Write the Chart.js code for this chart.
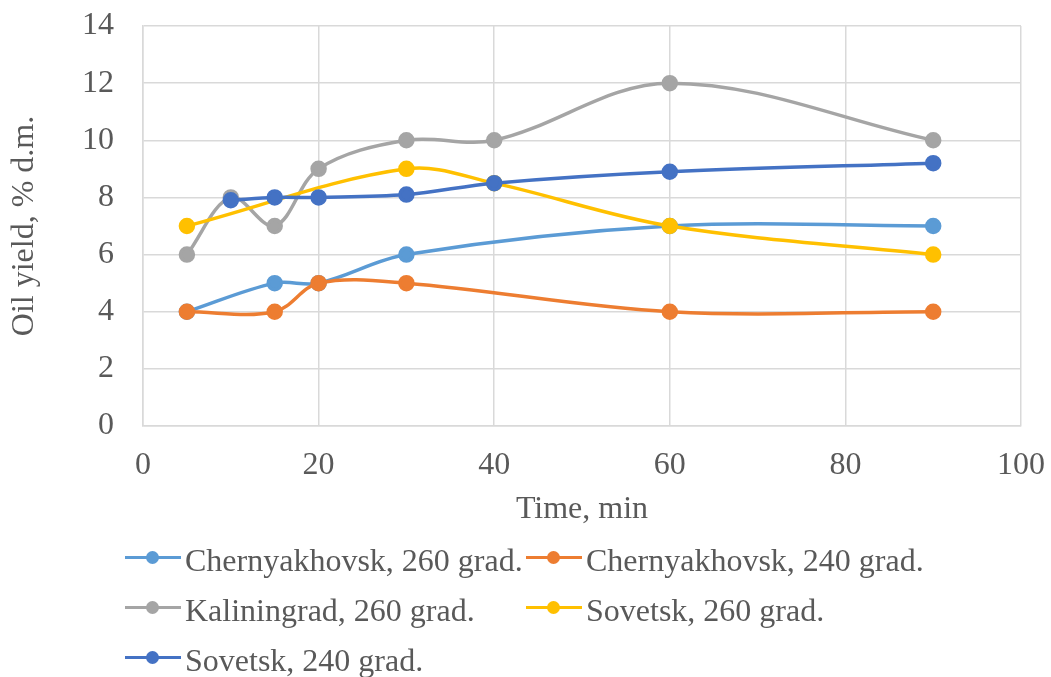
<!DOCTYPE html>
<html>
<head>
<meta charset="utf-8">
<script src="https://cdn.jsdelivr.net/npm/chart.js@4"></script>
<style>
  html, body { margin: 0; padding: 0; background: #fff; }
  body { width: 1051px; height: 677px; position: relative; overflow: hidden; font-family: "Liberation Serif", "Times New Roman", serif; }
  #wrap { position: absolute; left: 0; top: 0; width: 1051px; height: 530px; }
  #legend { position: absolute; left: 0; top: 0; width: 1051px; height: 677px; pointer-events: none; }
  .item { position: absolute; display: flex; align-items: center; height: 40px; font-size: 32px; color: #595959; white-space: nowrap; }
  .mark { position: relative; width: 56px; height: 40px; margin-right: 4px; }
  .mark .ln { position: absolute; left: 0; right: 0; top: 15.5px; height: 3.5px; }
  .mark .dt { position: absolute; left: 21px; top: 10.5px; width: 13px; height: 13px; border-radius: 50%; }
</style>
</head>
<body>
<div id="wrap"><canvas id="c" width="1051" height="530"></canvas></div>
<div id="legend"></div>
<script>
// ---- data ----
const seriesNames = [
  "Chernyakhovsk, 260 grad.",
  "Chernyakhovsk, 240 grad.",
  "Kaliningrad, 260 grad.",
  "Sovetsk, 260 grad.",
  "Sovetsk, 240 grad."
];
const chern260Time  = [5, 15, 20, 30, 60, 90];
const chern260Yield = [4, 5, 5, 6, 7, 7];
const chern240Time  = [5, 15, 20, 30, 60, 90];
const chern240Yield = [4, 4, 5, 5, 4, 4];
const kalin260Time  = [5, 10, 15, 20, 30, 40, 60, 90];
const kalin260Yield = [6, 8, 7, 9, 10, 10, 12, 10];
const sovet260Time  = [5, 30, 40, 60, 90];
const sovet260Yield = [7, 9, 8.5, 7, 6];
const sovet240Time  = [10, 15, 20, 30, 40, 60, 90];
const sovet240Yield = [7.9, 8, 8, 8.1, 8.5, 8.9, 9.2];
const xTicks = [0, 20, 40, 60, 80, 100];
const yTicks = [0, 2, 4, 6, 8, 10, 12, 14];
const colors = ["#5B9BD5", "#ED7D31", "#A5A5A5", "#FFC000", "#4472C4"];

const times = [chern260Time, chern240Time, kalin260Time, sovet260Time, sovet240Time];
const yields = [chern260Yield, chern240Yield, kalin260Yield, sovet260Yield, sovet240Yield];

const datasets = seriesNames.map((name, i) => ({
  label: name,
  data: times[i].map((t, k) => ({ x: t, y: yields[i][k] })),
  borderColor: colors[i],
  backgroundColor: colors[i],
  pointBackgroundColor: colors[i],
  pointBorderColor: colors[i],
  pointRadius: 6.5,
  pointHoverRadius: 6.5,
  borderWidth: 3.5,
  tension: 0.35,
  fill: false,
  order: seriesNames.length - i
}));

const tickFont = { family: "'Liberation Serif', 'Times New Roman', serif", size: 32 };
const CANVAS_H = 530;

new Chart(document.getElementById('c'), {
  type: 'line',
  data: { datasets },
  options: {
    responsive: false,
    animation: false,
    devicePixelRatio: 1,
    layout: { padding: { left: 0, right: 30, top: 26, bottom: 0 } },
    plugins: { legend: { display: false }, tooltip: { enabled: false } },
    scales: {
      x: {
        type: 'linear',
        min: 0, max: 100,
        afterBuildTicks: (s) => { s.ticks = xTicks.map(v => ({ value: v })); },
        afterFit: (s) => { s.height = CANVAS_H - 426; s.paddingLeft = 0; s.paddingRight = 0; },
        ticks: { font: tickFont, color: '#595959', padding: 20 },
        grid: { color: '#d9d9d9', lineWidth: 1.5, drawTicks: false },
        border: { color: '#d9d9d9', width: 1.5 },
        title: { display: true, text: 'Time, min', font: tickFont, color: '#595959', padding: { top: 0, bottom: 1 } }
      },
      y: {
        type: 'linear',
        min: 0, max: 14,
        afterBuildTicks: (s) => { s.ticks = yTicks.map(v => ({ value: v })); },
        afterFit: (s) => { s.width = 143; s.paddingTop = 0; s.paddingBottom = 0; },
        ticks: { font: tickFont, color: '#595959', padding: 29 },
        grid: { color: '#d9d9d9', lineWidth: 1.5, drawTicks: false },
        border: { color: '#d9d9d9', width: 1.5 },
        title: { display: true, text: 'Oil yield, % d.m.', font: tickFont, color: '#595959', padding: { top: 5, bottom: 0 } }
      }
    }
  }
});

// legend in Excel-like grid (2 columns)
const legend = document.getElementById('legend');
const colX = [125, 526];
const rowY = [540, 590, 640];
seriesNames.forEach((name, i) => {
  const it = document.createElement('div');
  it.className = 'item';
  it.style.left = colX[i % 2] + 'px';
  it.style.top = rowY[Math.floor(i / 2)] + 'px';
  it.innerHTML = '<div class="mark"><div class="ln" style="background:' + colors[i] + '"></div><div class="dt" style="background:' + colors[i] + '"></div></div><span></span>';
  it.querySelector('span').textContent = name;
  legend.appendChild(it);
});
</script>
</body>
</html>
